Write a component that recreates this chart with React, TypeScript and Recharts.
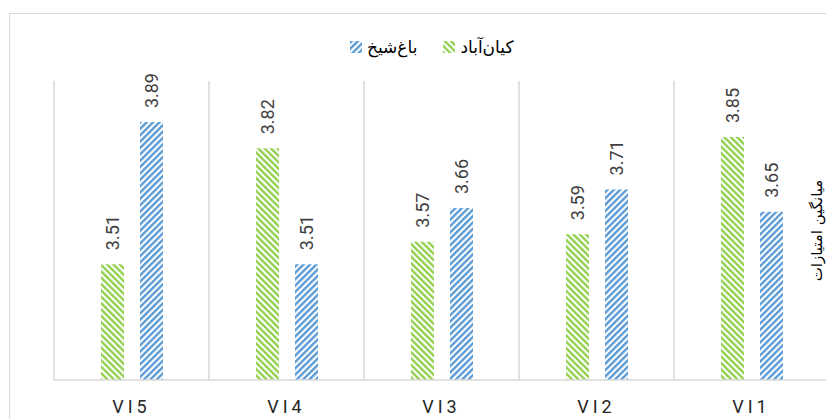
import { BarChart, Bar, XAxis, YAxis, CartesianGrid, LabelList, Label } from "recharts";

const categories = ["VI1", "VI2", "VI3", "VI4", "VI5"];
const kianabad = [3.85, 3.59, 3.57, 3.82, 3.51];
const baghesheikh = [3.65, 3.71, 3.66, 3.51, 3.89];
const seriesNames = ["کیان‌آباد", "باغ‌شیخ"];

const data = categories.map((c, i) => ({
  name: c,
  kianabad: kianabad[i],
  baghesheikh: baghesheikh[i],
}));

const GRID = "#d9d9d9";
const TEXT = "#404040";

function BarValue(props: any) {
  const { x, y, width, value } = props;
  const cx = x + width / 2;
  const ty = y - 14;
  return (
    <text
      x={cx}
      y={ty}
      transform={`rotate(-90, ${cx}, ${ty})`}
      textAnchor="start"
      dominantBaseline="central"
      fill={TEXT}
      fontFamily="Roboto, sans-serif"
      fontSize={18}
    >
      {value.toFixed(2)}
    </text>
  );
}

function AxisTitle(props: any) {
  const vb = props.viewBox || { x: 829, y: 81, height: 299 };
  const cx = vb.x - 12;
  const cy = vb.y + vb.height / 2;
  return (
    <text
      x={cx}
      y={cy}
      transform={`rotate(-90, ${cx}, ${cy})`}
      textAnchor="middle"
      dominantBaseline="central"
      fill="#000"
      fontFamily="DejaVu Sans, sans-serif"
      fontSize={15}
    >
      میانگین امتیازات
    </text>
  );
}

function XTick(props: any) {
  const { x, y, payload } = props;
  return (
    <text
      x={x}
      y={y}
      dy={26}
      textAnchor="middle"
      fill="#262626"
      fontFamily="Roboto, sans-serif"
      fontSize={18}
      letterSpacing={4}
    >
      {payload.value}
    </text>
  );
}

function LegendBox({ pattern }: { pattern: string }) {
  return (
    <svg width={12} height={12} style={{ display: "block" }}>
      <rect width={12} height={12} fill={`url(#${pattern})`} />
    </svg>
  );
}

export default function App() {
  return (
    <div
      style={{
        position: "fixed",
        left: 0,
        top: 0,
        width: 826,
        height: 419,
        overflow: "hidden",
        background: "#fff",
      }}
    >
      <div
        style={{
          position: "absolute",
          left: 9,
          top: 13,
          width: 900,
          height: 500,
          border: `1.5px solid ${GRID}`,
        }}
      />
      <div style={{ position: "absolute", left: 0, top: 0 }}>
        <BarChart
          width={900}
          height={440}
          data={data}
          margin={{ top: 81, right: 70, bottom: 0, left: 54 }}
          barSize={23}
          barGap={16}
        >
          <defs>
            <pattern
              id="hatchGreen"
              patternUnits="userSpaceOnUse"
              width={4.5}
              height={4.5}
              patternTransform="rotate(-45)"
            >
              <rect width={4.5} height={4.5} fill="#fff" />
              <rect width={2.4} height={4.5} fill="#92d050" />
            </pattern>
            <pattern
              id="hatchBlue"
              patternUnits="userSpaceOnUse"
              width={4.5}
              height={4.5}
              patternTransform="rotate(45)"
            >
              <rect width={4.5} height={4.5} fill="#fff" />
              <rect width={2.4} height={4.5} fill="#5b9bd5" />
            </pattern>
          </defs>
          <CartesianGrid
            horizontal={false}
            stroke={GRID}
            strokeWidth={1.5}
            verticalCoordinatesGenerator={(p: any) => {
              const off = p && p.offset ? p.offset : { left: 54, width: 775 };
              const step = off.width / categories.length;
              return categories
                .map((_, i) => off.left + i * step)
                .concat(off.left + off.width);
            }}
          />
          <XAxis
            dataKey="name"
            reversed
            height={60}
            tickLine={false}
            tickSize={0}
            tickMargin={7}
            axisLine={{ stroke: GRID, strokeWidth: 1.5 }}
            tick={<XTick />}
          />
          <YAxis
            orientation="right"
            domain={[3.2, 4]}
            width={1}
            tick={false}
            tickLine={false}
            axisLine={false}
          >
            <Label content={<AxisTitle />} />
          </YAxis>
          <Bar
            dataKey="kianabad"
            name={seriesNames[0]}
            fill="url(#hatchGreen)"
            isAnimationActive={false}
          >
            <LabelList dataKey="kianabad" content={<BarValue />} />
          </Bar>
          <Bar
            dataKey="baghesheikh"
            name={seriesNames[1]}
            fill="url(#hatchBlue)"
            isAnimationActive={false}
          >
            <LabelList dataKey="baghesheikh" content={<BarValue />} />
          </Bar>
        </BarChart>
      </div>
      <div
        style={{
          position: "absolute",
          left: 350,
          top: 37,
          display: "flex",
          alignItems: "center",
          fontFamily: "DejaVu Sans, sans-serif",
          fontSize: 17,
          color: "#000",
        }}
      >
        <LegendBox pattern="hatchBlue" />
        <span style={{ marginLeft: 5, marginRight: 26 }}>{seriesNames[1]}</span>
        <LegendBox pattern="hatchGreen" />
        <span style={{ marginLeft: 5 }}>{seriesNames[0]}</span>
      </div>
    </div>
  );
}
